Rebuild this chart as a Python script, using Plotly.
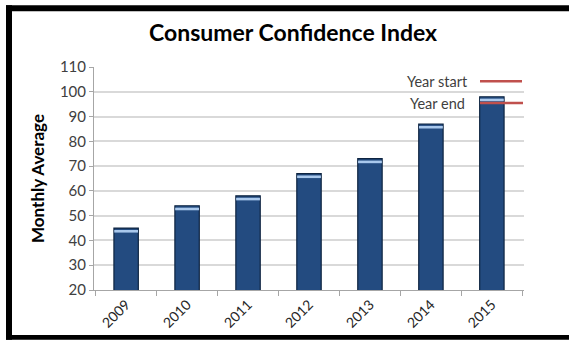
import plotly.graph_objects as go

# Consumer confidence, monthly average per year
years = ["2009", "2010", "2011", "2012", "2013", "2014", "2015"]
monthly_avg = [45, 54, 58, 67, 73, 87, 98]
y_ticks = [20, 30, 40, 50, 60, 70, 80, 90, 100, 110]
legend_names = ["Year start", "Year end"]

W, H = 569, 343
L, R, T, B = 94, 524, 66.5, 292.5  # plot area in pixels
FONT = "Lato"


def px(x):
    return (x - L) / (R - L)


def py(y):
    return (B - y) / (B - T)


fig = go.Figure()

fig.add_trace(go.Bar(
    x=years, y=monthly_avg, width=0.4,
    marker=dict(color="#234b80", line=dict(color="#0e2440", width=1.2)),
    showlegend=False, hoverinfo="x+y",
))

# glossy highlight just under each bar top
fig.add_trace(go.Scatter(
    x=years, y=[v - 1.3 for v in monthly_avg], mode="markers",
    marker=dict(symbol="line-ew", size=17, line=dict(color="#a9c8ec", width=2.6)),
    showlegend=False, hoverinfo="skip",
))

shapes = [
    # black frame
    dict(type="rect", xref="paper", yref="paper", x0=px(6), x1=px(12), y0=py(343), y1=py(4),
         fillcolor="black", line_width=0, layer="above"),
    dict(type="rect", xref="paper", yref="paper", x0=px(6), x1=px(569), y0=py(10), y1=py(4),
         fillcolor="black", line_width=0, layer="above"),
    dict(type="rect", xref="paper", yref="paper", x0=px(6), x1=px(569), y0=py(343), y1=py(338),
         fillcolor="black", line_width=0, layer="above"),
]
annotations = []
for name, yy, x_end, x_line in zip(legend_names, [81, 103], [470, 467], [522, 523]):
    shapes.append(dict(type="line", xref="paper", yref="paper", x0=px(480), x1=px(x_line),
                       y0=py(yy), y1=py(yy), line=dict(color="#c0504d", width=2.5), layer="above"))
    annotations.append(dict(text=name, xref="paper", yref="paper", x=px(x_end), y=py(yy),
                            xanchor="right", yanchor="middle", showarrow=False,
                            font=dict(family=FONT, size=14.5, color="#404040")))

fig.update_layout(
    width=W, height=H,
    margin=dict(l=L, r=W - R, t=T, b=H - B),
    paper_bgcolor="white", plot_bgcolor="white",
    title=dict(text="<b>Consumer Confidence Index</b>", x=0.515, xanchor="center",
               y=1 - 33 / H, yanchor="middle",
               font=dict(family=FONT, size=23, color="black")),
    xaxis=dict(type="category", tickson="boundaries", ticks="outside", ticklen=5,
               tickcolor="#a6a6a6", showline=True, linecolor="#a6a6a6", linewidth=1,
               tickangle=-45, tickfont=dict(family=FONT, size=14, color="#262626"),
               showgrid=False),
    yaxis=dict(range=[20, 110], tickvals=y_ticks, ticks="outside", ticklen=4,
               tickcolor="#a6a6a6", showline=True, linecolor="#a6a6a6", linewidth=1,
               gridcolor="#d9d9d9", gridwidth=1.5, zeroline=False,
               tickfont=dict(family=FONT, size=15, color="#404040"),
               title=dict(text="<b>Monthly Average</b>", standoff=10,
                          font=dict(family=FONT, size=17, color="black"))),
    shapes=shapes, annotations=annotations,
    bargap=0.6,
)

fig.write_html("out.html")
